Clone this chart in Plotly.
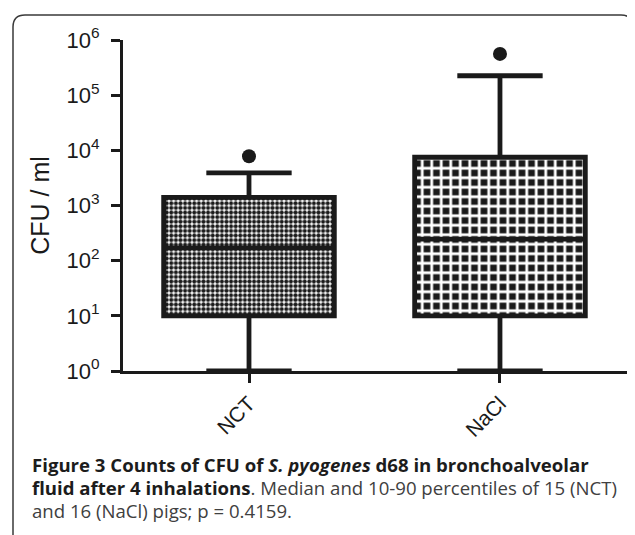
import plotly.graph_objects as go

# ---- data ----
categories = ["NCT", "NaCl"]
q1 = [10, 10]
median = [170, 245]
q3 = [1400, 7500]
lower_whisker = [1, 1]
upper_whisker = [3900, 225000]
outliers = [7800, 560000]
y_tick_vals = [1, 10, 100, 1000, 10000, 100000, 1000000]
y_tick_text = ["10<sup>0</sup>", "10<sup>1</sup>", "10<sup>2</sup>", "10<sup>3</sup>",
               "10<sup>4</sup>", "10<sup>5</sup>", "10<sup>6</sup>"]
BOLD = '<span style="color:#1c1c1c"><b>'
caption_lines = [
    BOLD + "Figure 3 Counts of CFU of <i>S. pyogenes</i> d68 in bronchoalveolar</b></span>",
    BOLD + "fluid after 4 inhalations</b></span>. Median and 10-90 percentiles of 15 (NCT)",
    "and 16 (NaCl) pigs; p = 0.4159.",
]

# ---- layout geometry (page body has an 8px margin) ----
OFF = 8
W, H = 635 - OFF, 535 - OFF
L, T = 123 - OFF, 40 - OFF
PLOT_R, PLOT_B = 632 - OFF, 371 - OFF
R, B = W - PLOT_R, H - PLOT_B
PW, PH = PLOT_R - L, PLOT_B - T


def px(x_ref):
    return (x_ref - OFF - L) / PW


def py(y_ref):
    return (PLOT_B - (y_ref - OFF)) / PH


INK = "#1a1a1a"
BOX_W = 0.68

fig = go.Figure()

# patterned box bodies (Q1..Q3)
fig.add_trace(go.Bar(
    x=categories,
    y=[b - a for a, b in zip(q1, q3)],
    base=q1,
    width=BOX_W,
    marker=dict(
        color="white",
        line=dict(width=0),
        pattern=dict(shape=[".", "+"], size=[4.6, 9.5], solidity=[0.62, 0.5],
                     fgcolor=[INK, "white"], bgcolor=["white", INK], fillmode="replace"),
    ),
    hoverinfo="skip",
    showlegend=False,
))

# box outlines, medians, whiskers and caps
fig.add_trace(go.Box(
    x=categories,
    q1=q1, median=median, q3=q3,
    lowerfence=lower_whisker, upperfence=upper_whisker,
    width=BOX_W,
    whiskerwidth=0.5,
    fillcolor="rgba(0,0,0,0)",
    line=dict(color=INK, width=4.8),
    boxpoints=False,
    showlegend=False,
))

# outliers
fig.add_trace(go.Scatter(
    x=categories, y=outliers, mode="markers",
    marker=dict(color=INK, size=14, symbol="circle"),
    showlegend=False,
))

# rounded caption frame
r = 12
x0, x1 = px(13), px(633)
y_top, y_bot = py(15), py(560)
rx, ry = r / PW, r / PH
path = (f"M{x0},{y_bot} L{x0},{y_top - ry} Q{x0},{y_top} {x0 + rx},{y_top} "
        f"L{x1 - rx},{y_top} Q{x1},{y_top} {x1},{y_top - ry} L{x1},{y_bot}")
fig.add_shape(type="path", path=path, xref="paper", yref="paper",
              line=dict(color="#3a3a3a", width=1.5))

# caption
cap_y = [464, 487, 510]
for line, yy in zip(caption_lines, cap_y):
    fig.add_annotation(
        text=line, xref="paper", yref="paper", x=px(30), y=py(yy),
        xanchor="left", yanchor="middle", showarrow=False, align="left",
        font=dict(family="Open Sans", size=18.6, color="#404040"),
    )

fig.update_layout(
    width=W, height=H,
    margin=dict(l=L, r=R, t=T, b=B, pad=0),
    paper_bgcolor="white", plot_bgcolor="white",
    barmode="overlay",
    font=dict(family="Liberation Sans, Arial", color=INK),
    xaxis=dict(
        type="category", range=[-0.502, 1.526],
        showline=True, linecolor=INK, linewidth=3,
        ticks="outside", ticklen=9, tickwidth=3, tickcolor=INK,
        tickangle=-45, tickfont=dict(size=21, family="Liberation Sans", color=INK),
        showgrid=False, zeroline=False,
    ),
    yaxis=dict(
        type="log", range=[0, 6],
        tickvals=y_tick_vals, ticktext=y_tick_text,
        showline=True, linecolor=INK, linewidth=3,
        ticks="outside", ticklen=9, tickwidth=3, tickcolor=INK,
        ticklabelstandoff=7,
        tickfont=dict(size=22, family="Liberation Sans", color=INK),
        showgrid=False, zeroline=False,
        title=dict(text="CFU / ml", font=dict(size=25, family="Liberation Sans", color=INK),
                   standoff=10),
    ),
)

fig.write_html("out.html")
